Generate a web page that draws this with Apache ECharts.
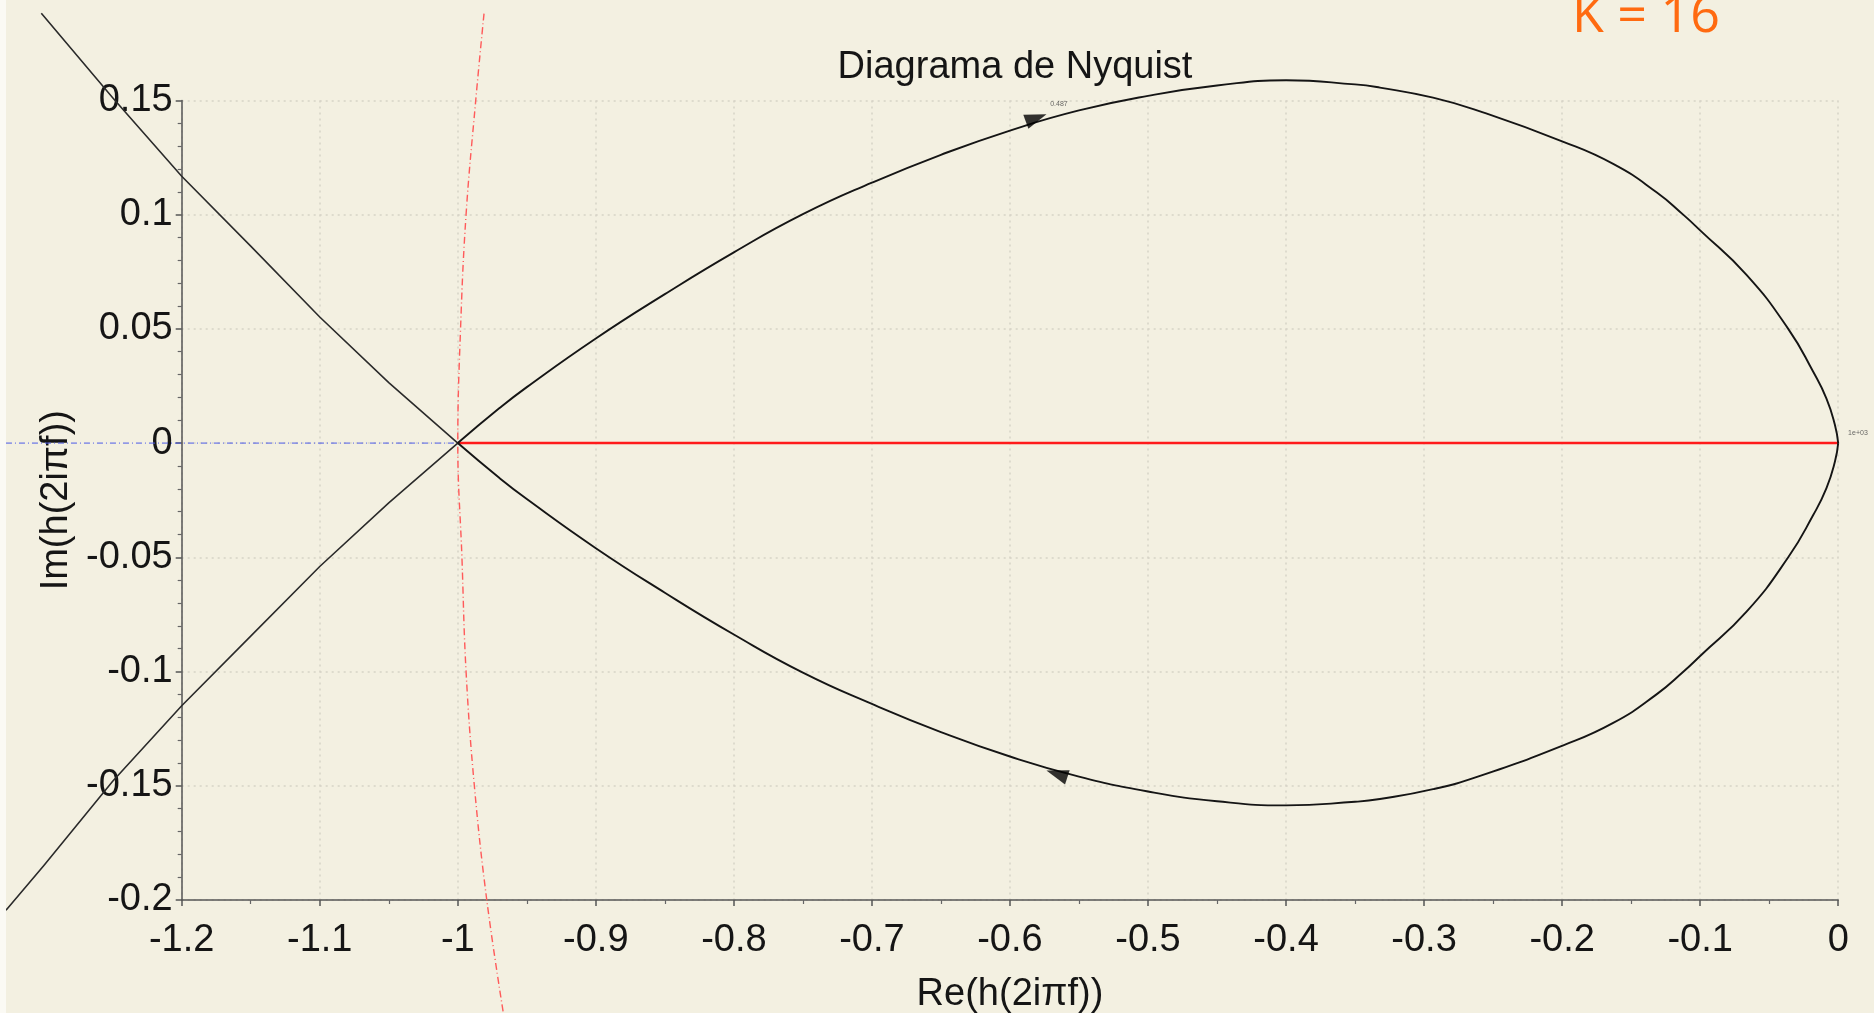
<!DOCTYPE html>
<html><head><meta charset="utf-8">
<script src="https://cdn.jsdelivr.net/npm/echarts@6/dist/echarts.min.js"></script>
<style>html,body{margin:0;padding:0;background:#F3F0E1;overflow:hidden}#c{width:1874px;height:1013px}</style>
</head><body><div id="c"></div>
<script>
const titleText = 'Diagrama de Nyquist';
const xName = 'Re(h(2iπf))';
const yName = 'Im(h(2iπf))';
const gainLabel = 'K = 16';

// Branch 1: lower-left line into the critical point, then the upper loop to the origin
const lowerLeftLine = [[-1.3273,-0.2045],[-1.3,-0.185],[-1.25,-0.148],[-1.2,-0.115],[-1.15,-0.0845],[-1.1,-0.0540],[-1.05,-0.0262],[-1,0]];
const upperLoop = [[-1,0],[-0.97,0.0152],[-0.95,0.0245],[-0.9,0.0458],[-0.85,0.0652],[-0.8,0.0835],[-0.75,0.1002],[-0.7,0.1140],[-0.65,0.1262],[-0.6,0.1368],[-0.55,0.1456],[-0.5,0.152],[-0.45,0.1565],[-0.4,0.1588],[-0.35,0.1570],[-0.332,0.1556],[-0.2935,0.1512],[-0.26,0.1453],[-0.2,0.1321],[-0.163,0.1222],[-0.1316,0.1098],[-0.1123,0.1000],[-0.0998,0.0930],[-0.0664,0.0736],[-0.0362,0.0500],[-0.0181,0.0312],[-0.0085,0.0195],[-0.0024,0.0080],[0,0]];

// Branch 2: from the origin along the lower loop, through the critical point to the upper-left
const lowerLoop = [[0,0],[-0.0024,-0.0082],[-0.0085,-0.0197],[-0.0181,-0.0315],[-0.0362,-0.0500],[-0.0664,-0.0738],[-0.1,-0.0932],[-0.112,-0.1000],[-0.1316,-0.1100],[-0.163,-0.1225],[-0.2,-0.1325],[-0.26,-0.1458],[-0.2935,-0.1515],[-0.332,-0.1558],[-0.35,-0.1570],[-0.4,-0.1586],[-0.45,-0.1568],[-0.5,-0.1525],[-0.55,-0.146],[-0.6,-0.1372],[-0.65,-0.1265],[-0.7,-0.1142],[-0.75,-0.1005],[-0.8,-0.0838],[-0.85,-0.0655],[-0.9,-0.046],[-0.95,-0.0245],[-0.97,-0.0152],[-1,0]];
const upperLeftLine = [[-1,0],[-1.05,0.0265],[-1.1,0.0552],[-1.15,0.0862],[-1.2,0.1168],[-1.25,0.1512],[-1.3017,0.1881]];

// red dash-dot curve through the critical point
const criticalCurve = [[-0.981,0.188],[-0.987,0.15],[-0.994,0.1],[-0.998,0.05],[-1,0],[-0.997,-0.05],[-0.994,-0.1],[-0.988,-0.15],[-0.979,-0.2],[-0.967,-0.2495]];
// blue dash-dot real axis and red segment
const realAxisLine = [[-1.3273,0],[0,0]];
const redSegment = [[-1,0],[0,0]];

// direction arrows
const arrowPoints = [[-0.581,0.1423],[-0.566,-0.1448]];
const arrowAngles = [20, 162];

// tiny annotations
const noteLabels = ['0.487','1e+03'];
const noteX = [-0.5645, 0.0143];
const noteY = [0.1486, 0.0046];

const chart = echarts.init(document.getElementById('c'));
const font = '"Liberation Sans", Arial, sans-serif';
const labelStyle = {fontFamily: font, fontSize: 38, color: '#151515'};

chart.setOption({
  animation: false,
  backgroundColor: '#F3F0E1',
  title: {
    text: titleText, left: 1010, textAlign: 'center', top: 44,
    textStyle: {fontFamily: font, fontSize: 38, fontWeight: 'normal', color: '#151515'}
  },
  grid: {left: 181.7, right: 35.8, top: 100.4, bottom: 113, containLabel: false, outerBoundsMode: 'none'},
  xAxis: {
    type: 'value', min: -1.2, max: 0, interval: 0.1,
    name: xName, nameLocation: 'middle', nameGap: 76,
    nameTextStyle: labelStyle,
    axisLine: {show: true, onZero: false, lineStyle: {color: '#555', width: 1.5}},
    axisTick: {show: true, inside: false, length: 6, lineStyle: {color: '#555', width: 1.5}},
    minorTick: {show: true, splitNumber: 2, length: 4, lineStyle: {color: '#666', width: 1.2}},
    axisLabel: Object.assign({margin: 22}, labelStyle),
    splitLine: {show: true, lineStyle: {color: '#D6D3C6', width: 1.5, type: [2, 4]}}
  },
  yAxis: {
    type: 'value', min: -0.2, max: 0.15, interval: 0.05,
    name: yName, nameLocation: 'middle', nameGap: 106, nameRotate: 90,
    nameTextStyle: labelStyle,
    axisLine: {show: true, onZero: false, lineStyle: {color: '#555', width: 1.5}},
    axisTick: {show: true, inside: false, length: 6, lineStyle: {color: '#555', width: 1.5}},
    minorTick: {show: true, splitNumber: 5, length: 4, lineStyle: {color: '#666', width: 1.2}},
    axisLabel: Object.assign({margin: 9}, labelStyle),
    splitLine: {show: true, lineStyle: {color: '#D6D3C6', width: 1.5, type: [2, 4]}}
  },
  graphic: [
    {type: 'rect', shape: {x: 0, y: 0, width: 6, height: 1013}, style: {fill: '#FBFAF4'}, z: 100},
    {type: 'text', x: 1572, y: 17, style: {text: gainLabel, font: '52px "Open Sans", sans-serif', fill: '#FF6A10', textAlign: 'left', verticalAlign: 'middle'}, z: 100}
  ],
  series: [
    {type: 'lines', coordinateSystem: 'cartesian2d', polyline: true, clip: false, z: 1, silent: true,
     lineStyle: {color: '#4A5AE8', width: 1, type: [6, 3, 1, 3], opacity: 1},
     data: [{coords: realAxisLine}]},
    {type: 'line', data: criticalCurve, showSymbol: false, clip: false, smooth: 0.4, z: 2, silent: true,
     lineStyle: {color: '#FF5A5A', width: 1.4, type: [7, 3, 1, 3]}},
    {type: 'line', data: redSegment, showSymbol: false, clip: false, z: 3, silent: true,
     lineStyle: {color: '#FF1A1A', width: 2.5}},
    {type: 'lines', coordinateSystem: 'cartesian2d', polyline: true, clip: false, z: 4, silent: true,
     lineStyle: {color: '#2A2A2A', width: 1.6, opacity: 1},
     data: [{coords: lowerLeftLine}, {coords: upperLeftLine}]},
    {type: 'line', data: upperLoop, showSymbol: false, clip: false, smooth: 0.5, z: 4, silent: true,
     lineStyle: {color: '#151515', width: 1.9}},
    {type: 'line', data: lowerLoop, showSymbol: false, clip: false, smooth: 0.5, z: 4, silent: true,
     lineStyle: {color: '#151515', width: 1.9}},
    {type: 'scatter', clip: false, z: 5, silent: true,
     symbol: 'path://M0,0L12,5L0,10Z', symbolSize: [22, 15],
     itemStyle: {color: '#000'},
     data: arrowPoints.map((p, i) => ({value: p, symbolRotate: arrowAngles[i]}))},
    {type: 'scatter', clip: false, z: 5, silent: true, symbolSize: 0,
     label: {show: true, position: 'inside', formatter: p => p.name, fontSize: 7, color: '#444', fontFamily: font},
     data: noteLabels.map((t, i) => ({name: t, value: [noteX[i], noteY[i]]}))}
  ]
});
</script></body></html>
